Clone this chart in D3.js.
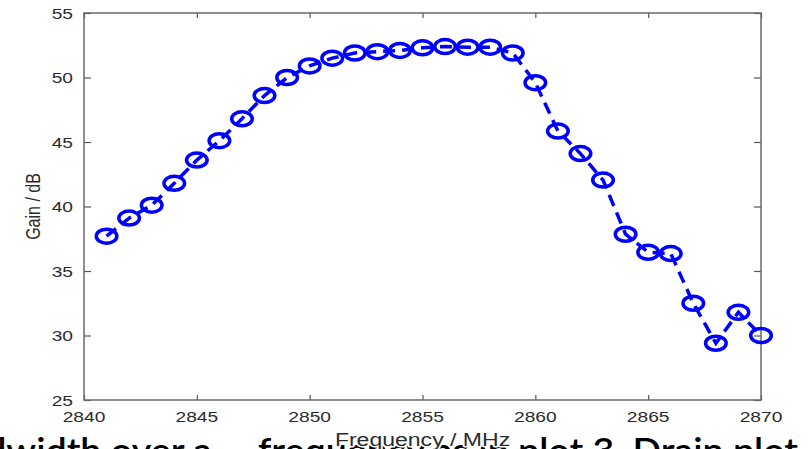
<!DOCTYPE html>
<html>
<head>
<meta charset="utf-8">
<script src="https://cdn.jsdelivr.net/npm/d3@7"></script>
<style>
  html, body { margin: 0; padding: 0; background: #fff; overflow: hidden; }
  svg { display: block; }
</style>
</head>
<body>
<script>
// Amplifier gain measured across the S-band sweep
const frequency = [2841, 2842, 2843, 2844, 2845, 2846, 2847, 2848, 2849, 2850,
                   2851, 2852, 2853, 2854, 2855, 2856, 2857, 2858, 2859, 2860,
                   2861, 2862, 2863, 2864, 2865, 2866, 2867, 2868, 2869, 2870];
const gain = [37.7, 39.1, 40.1, 41.8, 43.6, 45.1, 46.8, 48.6, 50.0, 50.9,
              51.5, 51.9, 52.0, 52.1, 52.3, 52.4, 52.35, 52.35, 51.9, 49.6,
              45.85, 44.1, 42.05, 37.85, 36.45, 36.35, 32.5, 29.4, 31.8, 30.0];
const xTicks = [2840, 2845, 2850, 2855, 2860, 2865, 2870];
const yTicks = [25, 30, 35, 40, 45, 50, 55];
const xLabel = "Frequency / MHz";
const yLabel = "Gain / dB";
// running caption text beneath the figure, split into runs
const captionRuns = ["bandwidth over a", "frequency as in plot 3. Drain plot"];

const W = 810, H = 449;
const stretch = 1.28;           // horizontal widening of the rendered figure
const plotLeft = 84, plotRight = 761, plotTop = 13, plotBottom = 400;

// caption run layout: start x and set advance width
const captionLayout = [[-76, 288], [258, 540]];

const svg = d3.select("body").append("svg")
  .attr("width", W).attr("height", H);
svg.append("rect").attr("width", W).attr("height", H).attr("fill", "#fff");

const x = d3.scaleLinear().domain([2840, 2870]).range([plotLeft, plotRight]);
const y = d3.scaleLinear().domain([25, 55]).range([plotBottom, plotTop]);

const axisColor = "#6a6a6a";
const labelFont = "Liberation Sans, Arial, Helvetica, sans-serif";

function wideText(g, px, py, str, size, anchor, color) {
  return g.append("text")
    .attr("transform", `translate(${px},${py}) scale(${stretch},1)`)
    .attr("text-anchor", anchor)
    .attr("font-family", labelFont)
    .attr("font-size", size)
    .attr("fill", color)
    .text(str);
}

// caption text running underneath (only its upper part falls inside the frame)
const caption = svg.append("g");
captionRuns.forEach((run, i) => {
  caption.append("text")
    .attr("x", captionLayout[i][0])
    .attr("y", 463)
    .attr("textLength", captionLayout[i][1])
    .attr("lengthAdjust", "spacingAndGlyphs")
    .attr("font-family", "Lato, Open Sans, sans-serif")
    .attr("font-size", 34)
    .attr("font-weight", 600)
    .attr("fill", "#000")
    .text(run);
});

// tick marks (inward, on all four sides)
const tickStyle = g => {
  g.select(".domain").remove();
  g.selectAll(".tick line").attr("stroke", "#555").attr("stroke-width", 1.2);
  g.selectAll(".tick text").remove();
};
svg.append("g").attr("transform", `translate(0,${plotBottom})`)
  .call(d3.axisBottom(x).tickValues(xTicks).tickSizeInner(-5).tickSizeOuter(0)).call(tickStyle);
svg.append("g").attr("transform", `translate(0,${plotTop})`)
  .call(d3.axisTop(x).tickValues(xTicks).tickSizeInner(-5).tickSizeOuter(0)).call(tickStyle);
svg.append("g").attr("transform", `translate(${plotLeft},0)`)
  .call(d3.axisLeft(y).tickValues(yTicks).tickSizeInner(-7).tickSizeOuter(0)).call(tickStyle);
svg.append("g").attr("transform", `translate(${plotRight},0)`)
  .call(d3.axisRight(y).tickValues(yTicks).tickSizeInner(-7).tickSizeOuter(0)).call(tickStyle);

// axes box
svg.append("rect")
  .attr("x", plotLeft).attr("y", plotTop)
  .attr("width", plotRight - plotLeft).attr("height", plotBottom - plotTop)
  .attr("fill", "none").attr("stroke", axisColor).attr("stroke-width", 1.5);

// tick labels
const tickLabels = svg.append("g");
xTicks.forEach(t => wideText(tickLabels, x(t), 422, String(t), 15, "middle", "#2b2b2b"));
yTicks.forEach(t => wideText(tickLabels, 73, y(t) + 5.5, String(t), 15, "end", "#2b2b2b"));

// axis titles (x title sits over the caption with a white halo)
wideText(svg, (plotLeft + plotRight) / 2, 446, xLabel, 18, "middle", "#2b2b2b")
  .attr("stroke", "#fff").attr("stroke-width", 3)
  .attr("stroke-linejoin", "round").attr("paint-order", "stroke");
svg.append("text")
  .attr("transform", `translate(40,${(plotTop + plotBottom) / 2}) scale(${stretch},1) rotate(-90)`)
  .attr("text-anchor", "middle")
  .attr("font-family", labelFont)
  .attr("font-size", 16)
  .attr("fill", "#2b2b2b")
  .text(yLabel);

// dashed series line with open circle markers
const blue = "#0000ff";
const pts = frequency.map((f, i) => [f, gain[i]]);
svg.append("path")
  .datum(pts)
  .attr("d", d3.line().x(d => x(d[0])).y(d => y(d[1])))
  .attr("fill", "none")
  .attr("stroke", blue)
  .attr("stroke-width", 3.5)
  .attr("stroke-dasharray", "12,7");

svg.append("g").selectAll("ellipse")
  .data(pts)
  .join("ellipse")
  .attr("cx", d => x(d[0]))
  .attr("cy", d => y(d[1]))
  .attr("rx", 10.3)
  .attr("ry", 7)
  .attr("fill", "none")
  .attr("stroke", blue)
  .attr("stroke-width", 3.5);
</script>
</body>
</html>
